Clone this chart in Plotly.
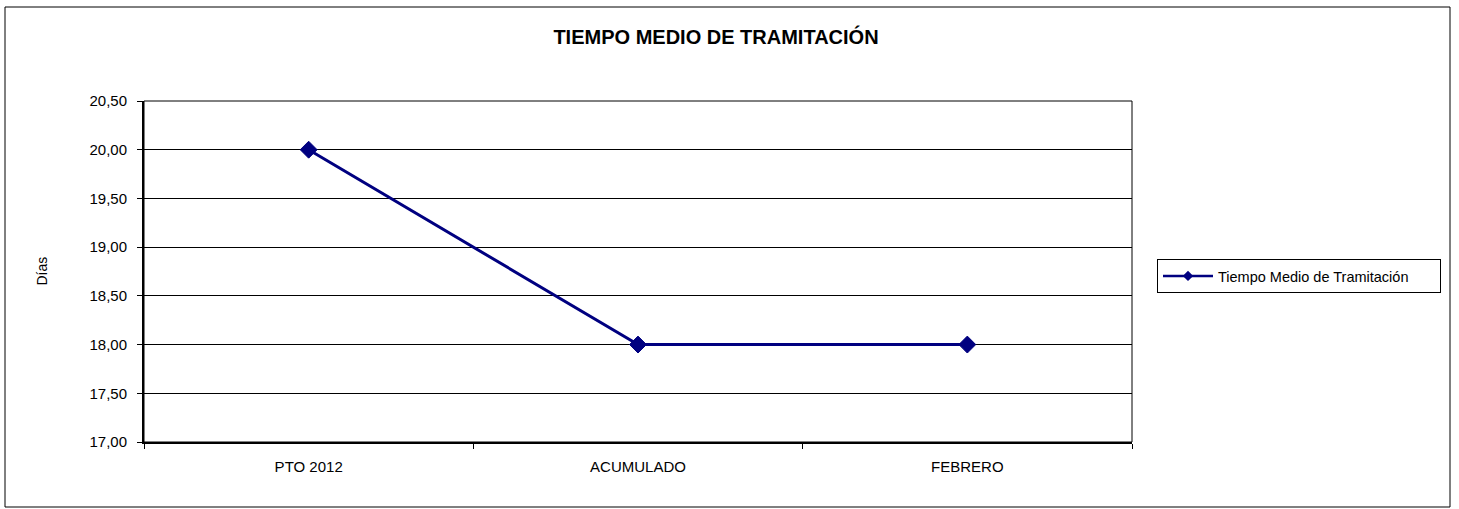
import plotly.graph_objects as go

categories = ["PTO 2012", "ACUMULADO", "FEBRERO"]
values = [20.00, 18.00, 18.00]
series_name = "Tiempo Medio de Tramitación"
title_text = "TIEMPO MEDIO DE TRAMITACIÓN"
y_title = "Días"

W, H = 1459, 509
L, R, T, B = 144, 1132, 101, 442
pw, ph = R - L, B - T

def px_x(x):
    return (x - L) / pw

def px_y(y):
    return (B - y) / ph

FONT = "Arial, Liberation Sans, sans-serif"
NAVY = "#000080"

fig = go.Figure()
fig.add_trace(go.Scatter(
    x=categories, y=values, name=series_name, mode="lines+markers",
    line=dict(color=NAVY, width=3),
    marker=dict(symbol="diamond", size=13, color=NAVY, line=dict(color=NAVY, width=1)),
    showlegend=False,
))
# legend-only entry with the smaller legend symbol
fig.add_trace(go.Scatter(
    x=[None], y=[None], name=series_name, mode="lines+markers",
    line=dict(color=NAVY, width=2.5),
    marker=dict(symbol="diamond", size=8, color=NAVY),
    showlegend=True, hoverinfo="skip",
))

fig.update_layout(
    width=W, height=H,
    margin=dict(l=L, r=W - R, t=T, b=H - B, pad=0),
    paper_bgcolor="white", plot_bgcolor="white",
    separators=",.",
    font=dict(family=FONT, size=15, color="black"),
    title=dict(text=f"<b>{title_text}</b>", x=px_x(716), xref="paper", xanchor="center",
               y=1 - 37 / H, yref="container", yanchor="middle",
               font=dict(family=FONT, size=20, color="black")),
    showlegend=True,
    legend=dict(x=px_x(1157), y=px_y(259), xanchor="left", yanchor="top",
                xref="paper", yref="paper", orientation="h",
                entrywidth=217, entrywidthmode="pixels",
                bordercolor="black", borderwidth=1, bgcolor="white",
                font=dict(family=FONT, size=14.5, color="black"),
                itemwidth=50, tracegroupgap=0),
    xaxis=dict(type="category", range=[-0.5, 2.5], showgrid=False,
               showline=True, linecolor="black", linewidth=2,
               ticks="outside", ticklen=5, tickcolor="black", tickwidth=1,
               tickson="boundaries", ticklabelstandoff=10,
               tickfont=dict(family=FONT, size=15, color="black"),
               zeroline=False, fixedrange=True),
    yaxis=dict(range=[17, 20.5], dtick=0.5, tick0=17, tickformat=".2f",
               showgrid=True, gridcolor="black", gridwidth=1,
               showline=True, linecolor="black", linewidth=2,
               ticks="outside", ticklen=5, tickcolor="black", tickwidth=1,
               ticklabelstandoff=7,
               tickfont=dict(family=FONT, size=15, color="black"),
               zeroline=False, fixedrange=True),
    shapes=[
        dict(type="rect", xref="paper", yref="paper", x0=0, x1=1, y0=0, y1=1,
             line=dict(color="black", width=1), layer="above"),
        dict(type="rect", xref="paper", yref="paper",
             x0=px_x(5), x1=px_x(1450), y0=px_y(507), y1=px_y(7),
             line=dict(color="black", width=1)),
    ],
    annotations=[
        dict(text=y_title, xref="paper", yref="paper", x=px_x(41), y=0.5,
             textangle=-90, showarrow=False, xanchor="center", yanchor="middle",
             font=dict(family=FONT, size=14, color="black")),
    ],
)

fig.write_html("out.html", config={"displayModeBar": False},
               post_script="document.body.style.margin='0px';")
